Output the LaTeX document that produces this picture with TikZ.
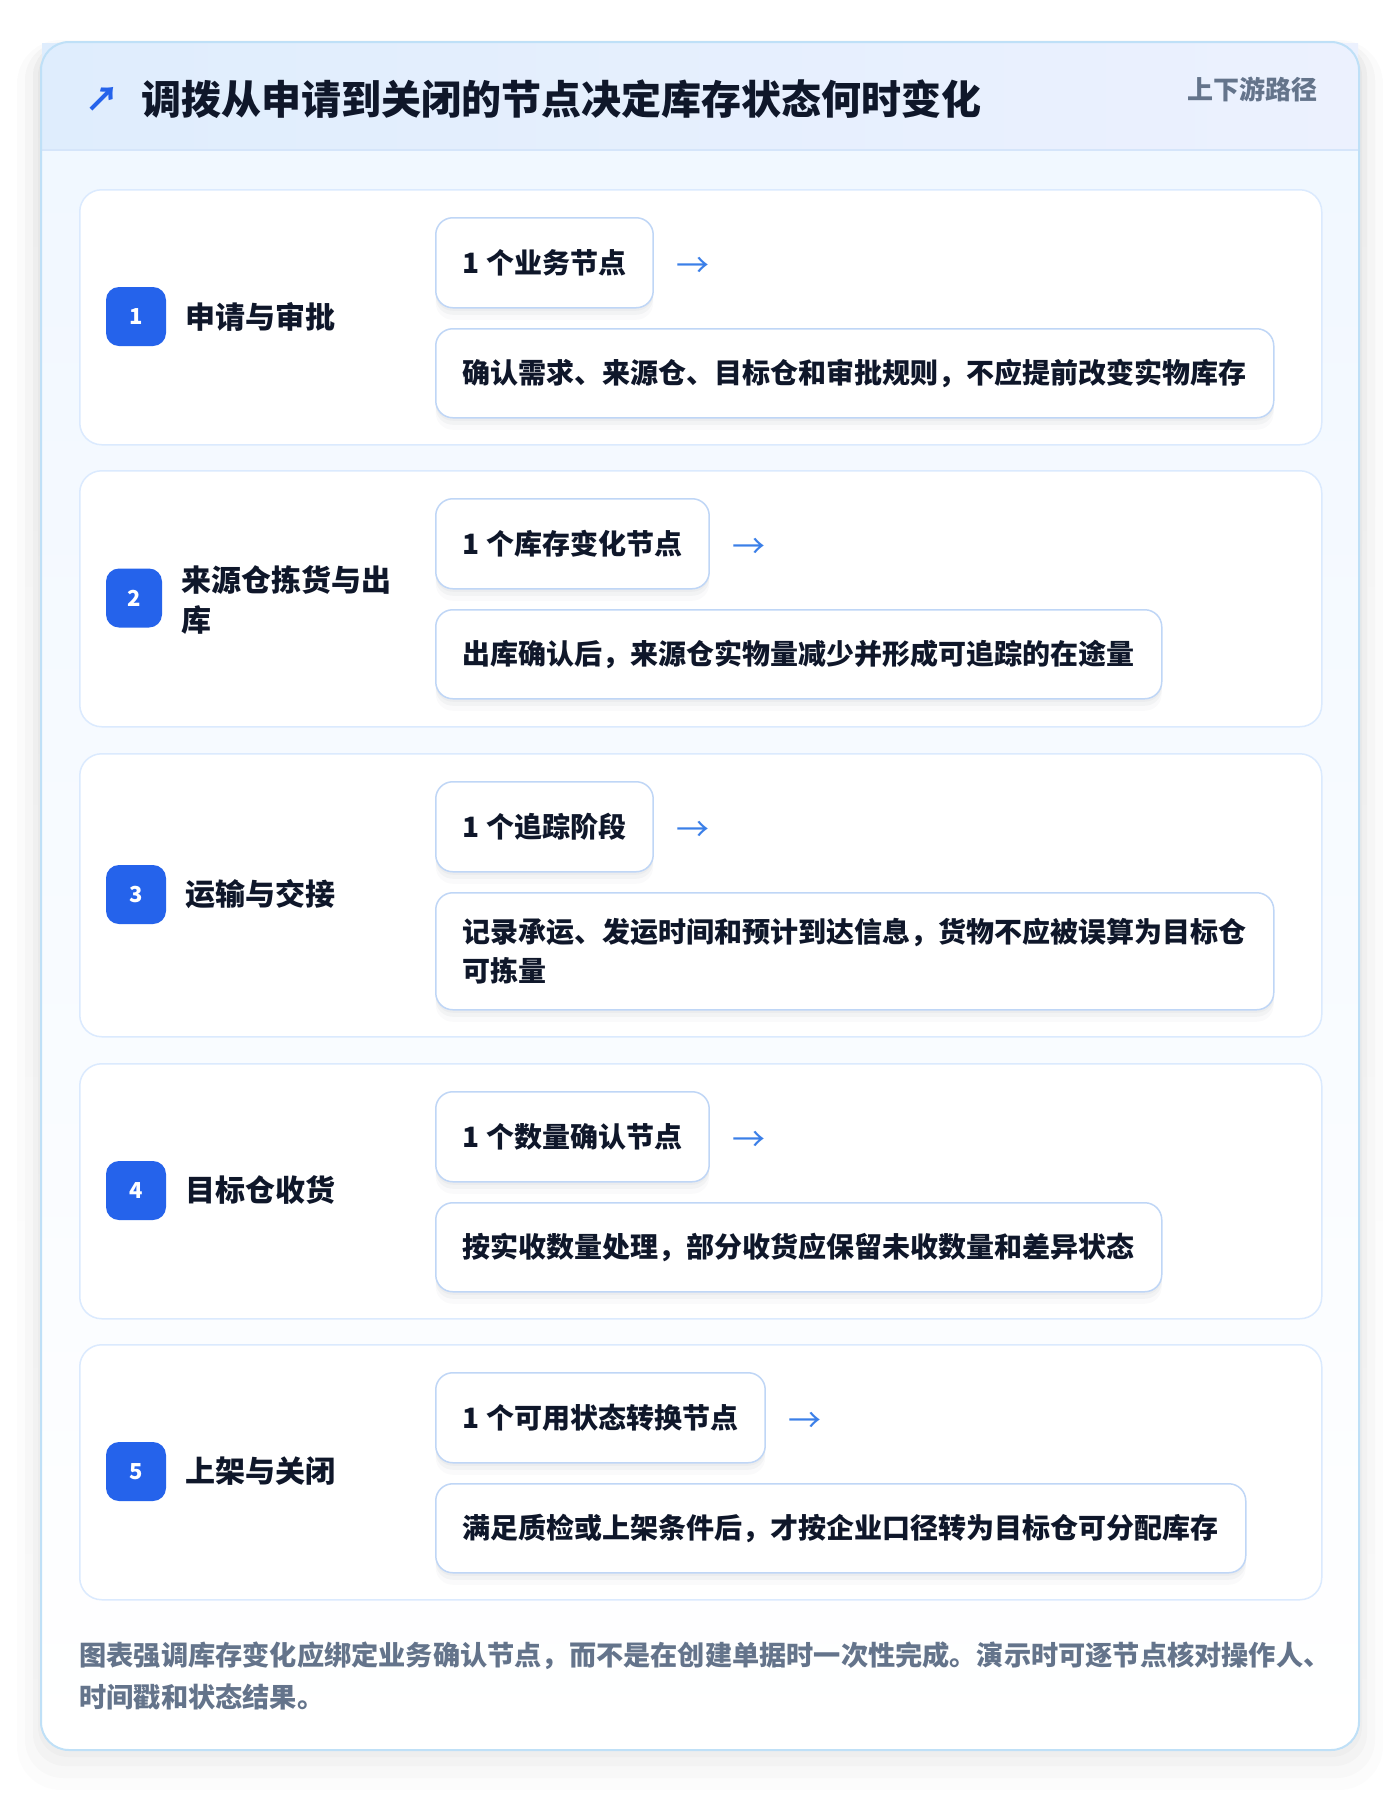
\documentclass[tikz,border=0pt]{standalone}
\usepackage{fontspec}
\setmainfont{Noto Sans CJK SC}
\usepackage{xcolor}
\usepackage{tikz}
\usetikzlibrary{positioning}
\usetikzlibrary{shadows}

\definecolor{ink}{HTML}{0F172A}
\definecolor{muted}{HTML}{64748B}
\definecolor{brand}{HTML}{2563EB}
\definecolor{arrowblue}{HTML}{3B7FE8}
\definecolor{frame}{HTML}{BFE0F7}
\definecolor{cardline}{HTML}{DBEAFE}
\definecolor{boxline}{HTML}{BFD6F6}
\definecolor{headleft}{HTML}{DFEDFD}
\definecolor{headright}{HTML}{ECF1FE}
\definecolor{headline}{HTML}{D5E5FA}
\definecolor{bodytop}{HTML}{F0F7FF}
\definecolor{shade}{HTML}{1E293B}

\tikzstyle{softshadow} = [drop shadow={shadow xshift=0pt, shadow yshift=-1.5pt, fill=shade, opacity=0.035}, drop shadow={shadow xshift=0pt, shadow yshift=-3.5pt, fill=shade, opacity=0.03}, drop shadow={shadow xshift=0pt, shadow yshift=-6pt, fill=shade, opacity=0.02}]
\tikzstyle{stagecard} = [rectangle, draw=cardline, line width=0.75pt, fill=white, rounded corners=11pt, anchor=north west, minimum width=621pt, minimum height=127.5pt]
\tikzstyle{badge} = [rectangle, fill=brand, rounded corners=6.5pt, minimum width=30pt, minimum height=29.5pt, inner sep=0pt, text=white, font=\fontsize{11pt}{12pt}\selectfont\bfseries]
\tikzstyle{stagename} = [anchor=west, inner sep=0pt, text=ink, align=left, font=\fontsize{15pt}{20pt}\selectfont\bfseries]
\tikzstyle{countbox} = [rectangle, draw=boxline, line width=0.75pt, fill=white, rounded corners=8.5pt, anchor=north west, minimum height=45pt, inner xsep=13.5pt, inner ysep=0pt, text=ink, font=\fontsize{14pt}{19.5pt}\selectfont\bfseries, softshadow]
\tikzstyle{notebox} = [countbox, minimum height=44.5pt, align=left]
\tikzstyle{flowarrow} = [inner sep=0pt, text=arrowblue, font=\fontsize{16.5pt}{16.5pt}\selectfont]

\begin{document}
\begin{tikzpicture}[x=0.5pt, y=0.5pt]
\useasboundingbox (0,0) rectangle (1400,-1794);
% outer panel with a soft shade
\fill [shade, opacity=0.012, rounded corners=22pt] (17,-40) rectangle (1383,-1790);
\fill [shade, opacity=0.015, rounded corners=19pt] (25,-42) rectangle (1375,-1778);
\fill [shade, opacity=0.018, rounded corners=16pt] (33,-44) rectangle (1367,-1766);
\fill [shade, opacity=0.02, rounded corners=15pt] (38,-46) rectangle (1362,-1757);
\path [rounded corners=14pt, top color=bodytop, bottom color=white] (41,-42) rectangle (1359,-1750);
\fill [left color=headleft, right color=headright] (42,-43) rectangle (1358,-150);
\draw [headline, line width=1pt] (42,-150) -- (1358,-150);
\draw [frame, line width=1pt, rounded corners=14pt] (41,-42) rectangle (1359,-1750);
\node [inner sep=0pt, text=brand, font=\fontsize{17pt}{17pt}\selectfont\bfseries] (icon) at (102,-99.5) {↗};
\node [anchor=west, inner sep=0pt, text=ink, font=\fontsize{20pt}{24pt}\selectfont\bfseries] (title) at (141,-99) {调拨从申请到关闭的节点决定库存状态何时变化};
\node [anchor=east, inner sep=0pt, text=muted, font=\fontsize{13pt}{16pt}\selectfont\bfseries] (route) at (1318,-89) {上下游路径};

% stage 1
\node [stagecard] (C1) at (79,-189) {};
\node [badge] (B1) at (136,-316.5) {1};
\node [stagename] (S1) at (185,-316.5) {申请与审批};
\node [countbox] (K1) at (435,-217) {1 个业务节点};
\node [flowarrow, right=11pt of K1, yshift=-2.5pt] (A1) {→};
\node [notebox] (N1) at (435,-328) {确认需求、来源仓、目标仓和审批规则，不应提前改变实物库存};

% stage 2
\node [stagecard, minimum height=128pt] (C2) at (79,-470) {};
\node [badge, minimum width=28pt] (B2) at (134,-598) {2};
\node [stagename] (S2) at (181,-600) {来源仓拣货与出\\库};
\node [countbox] (K2) at (435,-498) {1 个库存变化节点};
\node [flowarrow, right=11pt of K2, yshift=-2.5pt] (A2) {→};
\node [notebox] (N2) at (435,-609) {出库确认后，来源仓实物量减少并形成可追踪的在途量};

% stage 3
\node [stagecard, minimum height=141.5pt] (C3) at (79,-753) {};
\node [badge] (B3) at (136,-894.5) {3};
\node [stagename] (S3) at (185,-894.5) {运输与交接};
\node [countbox] (K3) at (435,-781) {1 个追踪阶段};
\node [flowarrow, right=11pt of K3, yshift=-2.5pt] (A3) {→};
\node [notebox, minimum height=58.5pt] (N3) at (435,-892) {记录承运、发运时间和预计到达信息，货物不应被误算为目标仓\\可拣量};

% stage 4
\node [stagecard] (C4) at (79,-1063) {};
\node [badge] (B4) at (136,-1190.5) {4};
\node [stagename] (S4) at (185,-1190.5) {目标仓收货};
\node [countbox] (K4) at (435,-1091) {1 个数量确认节点};
\node [flowarrow, right=11pt of K4, yshift=-2.5pt] (A4) {→};
\node [notebox] (N4) at (435,-1202) {按实收数量处理，部分收货应保留未收数量和差异状态};

% stage 5
\node [stagecard] (C5) at (79,-1344) {};
\node [badge] (B5) at (136,-1471.5) {5};
\node [stagename] (S5) at (185,-1471.5) {上架与关闭};
\node [countbox] (K5) at (435,-1372) {1 个可用状态转换节点};
\node [flowarrow, right=11pt of K5, yshift=-2.5pt] (A5) {→};
\node [notebox] (N5) at (435,-1483) {满足质检或上架条件后，才按企业口径转为目标仓可分配库存};

% footer
\node [anchor=west, inner sep=0pt, align=left, text=muted, font=\fontsize{13.6pt}{20.8pt}\selectfont\bfseries] (note) at (79,-1676) {图表强调库存变化应绑定业务确认节点，而不是在创建单据时一次性完成。演示时可逐节点核对操作人、\\时间戳和状态结果。};
\end{tikzpicture}
\end{document}
